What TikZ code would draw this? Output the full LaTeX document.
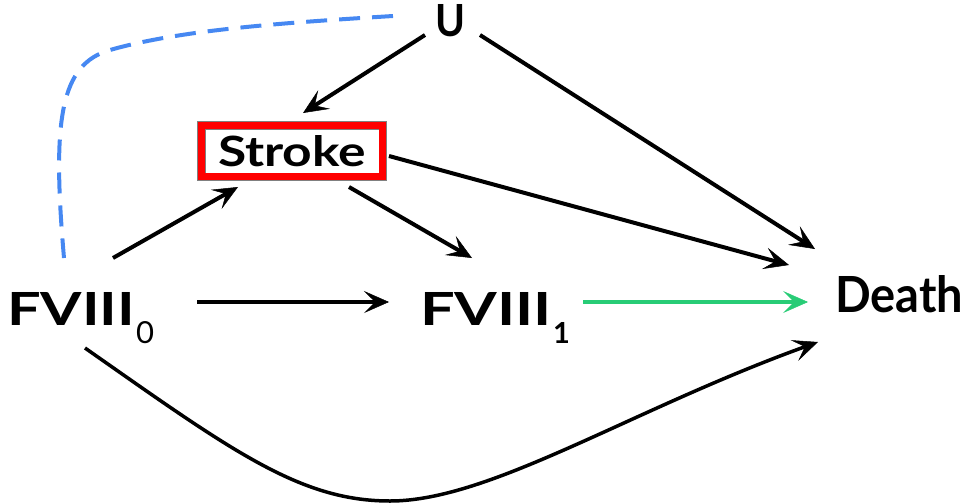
\documentclass[tikz,border=0pt]{standalone}
\usepackage{fontspec}
\setmainfont{Lato}
\usepackage{graphicx}
\usetikzlibrary{arrows.meta,calc}
\definecolor{dashblue}{RGB}{70,136,242}
\definecolor{arrgreen}{RGB}{40,204,118}
\definecolor{boxred}{RGB}{255,0,0}
\tikzset{
  lbl/.style={inner sep=0pt, outer sep=0pt, anchor=base west, font=\bfseries},
  arr/.style={line width=4pt, draw=black,
    -{Stealth[length=25pt,width=22pt,inset=11pt,line width=0.5pt]}},
  curvearr/.style={arr, line width=3.5pt},
  greenarr/.style={arr, draw=arrgreen, color=arrgreen},
  confound/.style={draw=dashblue, line width=4pt, dash pattern=on 21pt off 12pt},
  strokebox/.style={rectangle, draw=gray, double=boxred, double distance=7pt,
    line width=0.9pt, minimum width=181.5pt, minimum height=51.5pt,
    inner sep=0pt, font=\bfseries}
}
\begin{document}
\begin{tikzpicture}[x=1pt,y=-1pt]
\useasboundingbox (0,0) rectangle (965,503);
% nodes
\node[lbl] (U) at (435,37) {\resizebox{30pt}{32pt}{U}};
\node[strokebox] (S) at (292.2,151.2) {\resizebox{148pt}{31pt}{Stroke}};
\node[lbl] (F0) at (7,325) {\resizebox{128pt}{33pt}{FVIII}\hspace{1pt}\raisebox{-18pt}{\resizebox{18pt}{22pt}{\mdseries 0}}};
\node[lbl] (F1) at (420,325) {\resizebox{132pt}{33pt}{FVIII}\hspace{1pt}\raisebox{-18pt}{\resizebox{!}{21pt}{1}}};
\node[lbl] (D) at (835,312) {\resizebox{128pt}{37pt}{Death}};
% dashed confounding curve U -- F0
\draw[confound] ($(U.base west)+(-42,-21)$)
  .. controls (280,23) and (180,30) .. (110,50)
  .. controls (60,64.3) and (52,120) .. ($(F0.base west)+(57,-67)$);
% arrows
\draw[arr] ($(U.base west)+(-10,-2)$) -- ($(S.center)+(10.8,-38.2)$);
\draw[arr] ($(U.base west)+(45,-2)$) -- ($(D.base west)+(-20,-63)$);
\draw[arr] ($(S.center)+(96.8,4.8)$) -- ($(D.base west)+(-46,-47)$);
\draw[arr] ($(S.center)+(56.8,35.8)$) -- ($(F1.base west)+(52,-67)$);
\draw[arr] ($(F0.base west)+(106,-67)$) -- ($(S.center)+(-54.2,35.8)$);
\draw[arr] ($(F0.base west)+(190,-23)$) -- ($(F1.base west)+(-31,-23)$);
\draw[greenarr] ($(F1.base west)+(163,-23)$) -- ($(D.base west)+(-27,-10)$);
\draw[curvearr] ($(F0.base west)+(78,23)$)
  .. controls (232,451) and (300,501) .. (390,501)
  .. controls (490,501) and (630,410) .. ($(D.base west)+(-17,30)$);
\end{tikzpicture}
\end{document}
